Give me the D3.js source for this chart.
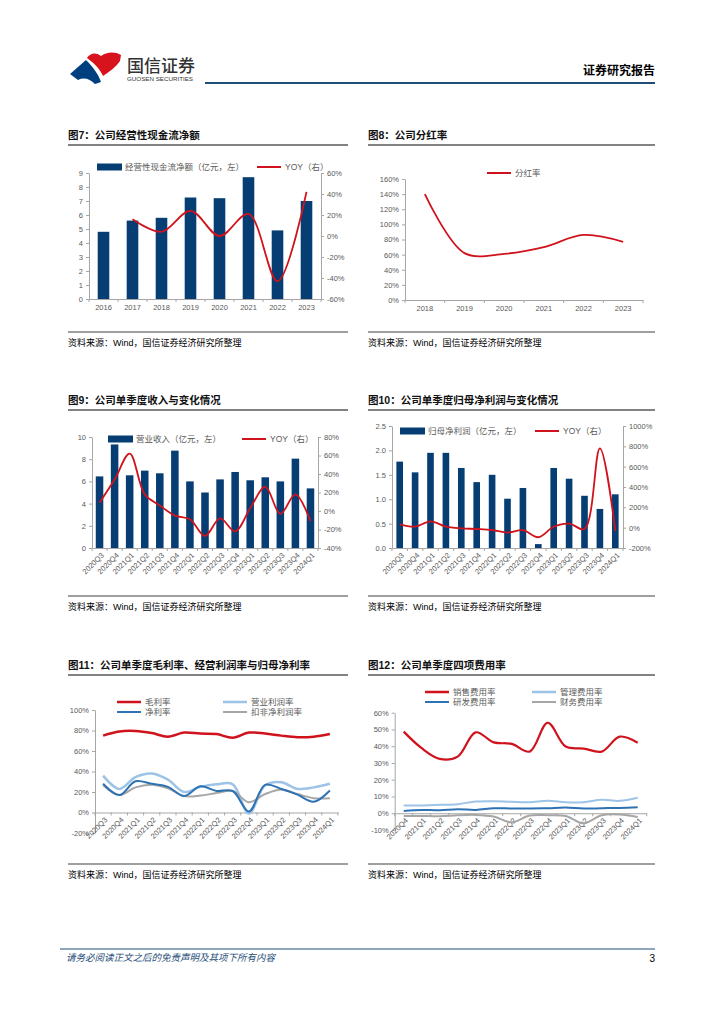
<!DOCTYPE html>
<html>
<head>
<meta charset="utf-8">
<script src="https://cdn.jsdelivr.net/npm/d3@7"></script>
<style>
  body { margin: 0; background: #fff; }
  svg { display: block; }
</style>
</head>
<body>
<svg id="page" width="724" height="1024"></svg>
<script>
const svg = d3.select('#page');

const FONT = "'Liberation Sans', 'Noto Sans CJK SC', sans-serif";
const NAVY = '#063d73';
const RED = '#d0121c';
const LIGHT = '#9dc3e6';
const BLUE = '#2e72b4';
const GRAY = '#a6a6a6';
const AXIS = '#a6a6a6';
const LABEL = '#595959';

// 图7 经营性现金流净额
const cfYears = ['2016', '2017', '2018', '2019', '2020', '2021', '2022', '2023'];
const cfValue = [4.8, 5.6, 5.8, 7.25, 7.2, 8.7, 4.9, 7.0];
const cfYoy = [null, 16, 4, 24, 0, 21, -43, 42];

// 图8 分红率
const divYears = ['2018', '2019', '2020', '2021', '2022', '2023'];
const divRate = [140, 62, 61, 70, 86, 77];

// 图9 / 图10 / 图11 quarters
const quarters = ['2020Q3', '2020Q4', '2021Q1', '2021Q2', '2021Q3', '2021Q4', '2022Q1', '2022Q2',
  '2022Q3', '2022Q4', '2023Q1', '2023Q2', '2023Q3', '2023Q4', '2024Q1'];
const revValue = [6.45, 9.33, 6.55, 6.97, 6.73, 8.77, 6.0, 5.0, 6.18, 6.85, 6.1, 6.37, 6.0, 8.05, 5.37];
const revYoy = [9, 34, 62, 18, 6, -5, -9, -27, -8, -22, 3, 26, -3, 18, -11];
const npValue = [1.77, 1.55, 1.95, 1.95, 1.64, 1.35, 1.50, 1.01, 1.23, 0.08, 1.64, 1.42, 1.07, 0.80, 1.10];
const npYoy = [33, 10, 62, 10, -7, -13, -23, -48, -25, -94, 9, 40, -13, 780, -33];

const grossMargin = [75, 79, 79.5, 77.5, 74, 78, 77, 76.5, 73, 78, 77, 75, 73.5, 74, 76.5];
const opMargin = [36, 23, 34.5, 38, 32, 20, 25, 27.5, 27.5, -1, 26.5, 29.5, 23, 24.5, 28];
const netMargin = [28, 17, 30.5, 28, 25, 16, 25.5, 21, 21, 1, 27, 23, 17.5, 10.5, 21.5];
const adjMargin = [26.5, 17, 24.5, 27, 23.5, 16, 16.5, 19, 21, 10, 18, 22.5, 18, 14, 14];

// 图12 四项费用率
const quartersB = ['2020Q4', '2021Q1', '2021Q2', '2021Q3', '2021Q4', '2022Q1', '2022Q2',
  '2022Q3', '2022Q4', '2023Q1', '2023Q2', '2023Q3', '2023Q4', '2024Q1'];
const salesRate = [48.7, 38.8, 32.4, 33.8, 48.3, 42.3, 41.4, 36.8, 54, 39.8, 38.6, 36.8, 45.7, 42.1];
const adminRate = [4.6, 4.6, 5.0, 5.4, 7.0, 7.2, 6.8, 6.6, 7.4, 6.6, 6.6, 8.0, 7.4, 9.3];
const rdRate = [1.4, 2.0, 1.8, 2.4, 2.0, 3.0, 2.8, 2.8, 3.0, 3.4, 2.8, 3.0, 3.2, 3.6];
const finRate = [-1.6, -1.6, -1.8, -1.2, -1.0, -2.0, -5.4, -1.4, -1.2, -1.6, -6.0, -1.2, -0.8, -2.2];

const pct = d => d + '%';
const smooth = d3.curveCatmullRom.alpha(0.5);

// ---------- page header / footer ----------
svg.append('path')
  .attr('d', 'M70,74 L86,60 C92,66 98,73 101,82 L95,84 C90,79 84,77 78,80 Z')
  .attr('fill', '#003f7f');
svg.append('path')
  .attr('d', 'M87,58 C90,53 96,52 101,56 C106,52 115,51 121,55 L120,61 C116,67 110,71 103,76 C100,69 94,63 87,58 Z')
  .attr('fill', '#d7131e');
svg.append('text')
  .attr('x', 127).attr('y', 72)
  .text('国信证券')
  .style('font-family', FONT).style('font-size', '17px').style('font-weight', 500)
  .attr('fill', '#333');
svg.append('text')
  .attr('x', 127).attr('y', 81)
  .attr('textLength', 66).attr('lengthAdjust', 'spacingAndGlyphs')
  .text('GUOSEN SECURITIES')
  .style('font-family', FONT).style('font-size', '6px')
  .attr('fill', '#333');
svg.append('text')
  .attr('x', 655).attr('y', 75).attr('text-anchor', 'end')
  .text('证券研究报告')
  .style('font-family', FONT).style('font-size', '12px').style('font-weight', 'bold')
  .attr('fill', '#000');
svg.append('line')
  .attr('x1', 205).attr('x2', 655).attr('y1', 83).attr('y2', 83)
  .attr('stroke', '#1f4e79').attr('stroke-width', 2);

svg.append('line')
  .attr('x1', 60).attr('x2', 655).attr('y1', 949).attr('y2', 949)
  .attr('stroke', '#1f4e79').attr('stroke-width', 1);
svg.append('text')
  .attr('x', 66).attr('y', 961)
  .text('请务必阅读正文之后的免责声明及其项下所有内容')
  .style('font-family', FONT).style('font-size', '9.5px').style('font-style', 'italic')
  .attr('fill', '#1f4e79');
svg.append('text')
  .attr('x', 655).attr('y', 962).attr('text-anchor', 'end')
  .text('3')
  .style('font-family', FONT).style('font-size', '10px')
  .attr('fill', '#000');

// ---------- helpers ----------
function frame(x0, x1, base, srcY, title) {
  svg.append('text')
    .attr('x', x0).attr('y', base)
    .text(title)
    .style('font-family', FONT).style('font-size', '10.5px').style('font-weight', 'bold')
    .attr('fill', '#111');
  svg.append('line')
    .attr('x1', x0).attr('x2', x1).attr('y1', base + 6).attr('y2', base + 6)
    .attr('stroke', '#595959').attr('stroke-width', 1.5);
  svg.append('line')
    .attr('x1', x0).attr('x2', x1).attr('y1', srcY).attr('y2', srcY)
    .attr('stroke', '#7f7f7f').attr('stroke-width', 1.5);
  svg.append('text')
    .attr('x', x0).attr('y', srcY + 13.5)
    .text('资料来源：Wind，国信证券经济研究所整理')
    .style('font-family', FONT).style('font-size', '9px')
    .attr('fill', '#000');
}

function legendItem(x, y, type, color, label, sw) {
  if (type === 'bar') {
    svg.append('rect')
      .attr('x', x).attr('y', y - 3.5).attr('width', 25).attr('height', 7)
      .attr('fill', color);
  } else {
    svg.append('line')
      .attr('x1', x).attr('x2', x + 24).attr('y1', y).attr('y2', y)
      .attr('stroke', color).attr('stroke-width', sw || 2);
  }
  svg.append('text')
    .attr('x', x + 28).attr('y', y).attr('dy', '0.35em')
    .text(label)
    .style('font-family', FONT).style('font-size', '8.5px')
    .attr('fill', LABEL);
}

function styleAxis(g) {
  g.select('.domain').attr('stroke', AXIS);
  g.selectAll('.tick line').attr('stroke', AXIS);
  g.selectAll('.tick text')
    .attr('fill', LABEL)
    .style('font-family', FONT).style('font-size', '7.5px');
}

function xAxis(x, y, x0, rotate) {
  const g = svg.append('g')
    .attr('transform', `translate(0,${y})`)
    .call(d3.axisBottom(x).tickSize(0).tickSizeOuter(0).tickPadding(6));
  styleAxis(g);
  if (rotate) {
    g.selectAll('.tick text')
      .attr('text-anchor', 'end')
      .attr('x', 0).attr('y', 0).attr('dy', '0.35em')
      .attr('transform', 'translate(3,6) rotate(-45)');
  }
  // tick marks between categories
  g.selectAll('line.bound')
    .data(d3.range(x.domain().length + 1))
    .join('line')
    .attr('class', 'bound')
    .attr('x1', i => x0 + i * x.step()).attr('x2', i => x0 + i * x.step())
    .attr('y1', 0).attr('y2', 3)
    .attr('stroke', AXIS);
}

function barLine(o) {
  const x = d3.scaleBand().domain(o.cats).range([o.x0, o.x1])
    .paddingInner(o.pad).paddingOuter(o.pad / 2);
  const yL = d3.scaleLinear().domain(o.left).range([o.yBot, o.yTop]);
  const yR = d3.scaleLinear().domain(o.right).range([o.yBot, o.yTop]);
  const cx = d => x(d) + x.bandwidth() / 2;

  svg.append('g').selectAll('rect')
    .data(o.cats)
    .join('rect')
    .attr('x', d => x(d))
    .attr('width', x.bandwidth())
    .attr('y', (d, i) => yL(o.bars[i]))
    .attr('height', (d, i) => yL(0) - yL(o.bars[i]))
    .attr('fill', NAVY);

  styleAxis(svg.append('g')
    .attr('transform', `translate(${o.x0},0)`)
    .call(d3.axisLeft(yL).tickValues(o.leftTicks).tickFormat(o.leftFmt)
      .tickSize(3).tickSizeOuter(0).tickPadding(3)));
  styleAxis(svg.append('g')
    .attr('transform', `translate(${o.x1},0)`)
    .call(d3.axisRight(yR).tickValues(o.rightTicks).tickFormat(pct)
      .tickSize(3).tickSizeOuter(0).tickPadding(3)));
  xAxis(x, o.yBot, o.x0, o.rotate);

  const line = d3.line()
    .defined(d => d[1] != null)
    .x(d => cx(d[0]))
    .y(d => yR(d[1]))
    .curve(smooth);
  svg.append('path')
    .datum(o.cats.map((c, i) => [c, o.line[i]]))
    .attr('d', line)
    .attr('fill', 'none')
    .attr('stroke', RED)
    .attr('stroke-width', 1.8);
}

function lines(o) {
  const x = d3.scaleBand().domain(o.cats).range([o.x0, o.x1]);
  const y = d3.scaleLinear().domain(o.domain).range([o.yBot, o.yTop]);
  const cx = d => x(d) + x.bandwidth() / 2;

  styleAxis(svg.append('g')
    .attr('transform', `translate(${o.x0},0)`)
    .call(d3.axisLeft(y).tickValues(o.ticks).tickFormat(pct)
      .tickSize(3).tickSizeOuter(0).tickPadding(3)));
  xAxis(x, y(0), o.x0, o.rotate);

  const line = d3.line()
    .x(d => cx(d[0]))
    .y(d => y(d[1]))
    .curve(smooth);
  o.series.forEach((s) => {
    svg.append('path')
      .datum(o.cats.map((c, i) => [c, s.values[i]]))
      .attr('d', line)
      .attr('fill', 'none')
      .attr('stroke', s.color)
      .attr('stroke-width', s.width);
  });
}

// ---------- 图7 ----------
frame(68, 348, 139, 332, '图7：公司经营性现金流净额');
barLine({
  cats: cfYears, bars: cfValue, line: cfYoy,
  x0: 89, x1: 321, yTop: 173, yBot: 299, pad: 0.6,
  left: [0, 9], leftTicks: d3.range(0, 10), leftFmt: d => d,
  right: [-60, 60], rightTicks: d3.range(-60, 61, 20),
  rotate: false,
});
legendItem(97, 167, 'bar', NAVY, '经营性现金流净额（亿元，左）');
legendItem(257, 167, 'line', RED, 'YOY（右）');

// ---------- 图8 ----------
frame(368, 655, 139, 332, '图8：公司分红率');
lines({
  cats: divYears, x0: 405, x1: 643, yTop: 179, yBot: 300,
  domain: [0, 160], ticks: d3.range(0, 161, 20), rotate: false,
  series: [{ values: divRate, color: RED, width: 1.8 }],
});
legendItem(487, 173, 'line', RED, '分红率');

// ---------- 图9 ----------
frame(68, 348, 404, 596, '图9：公司单季度收入与变化情况');
barLine({
  cats: quarters, bars: revValue, line: revYoy,
  x0: 92, x1: 318, yTop: 437, yBot: 548, pad: 0.5,
  left: [0, 10], leftTicks: d3.range(0, 11, 2), leftFmt: d => d,
  right: [-40, 80], rightTicks: d3.range(-40, 81, 20),
  rotate: true,
});
legendItem(108, 439, 'bar', NAVY, '营业收入（亿元，左）');
legendItem(242, 439, 'line', RED, 'YOY（右）');

// ---------- 图10 ----------
frame(368, 655, 404, 596, '图10：公司单季度归母净利润与变化情况');
barLine({
  cats: quarters, bars: npValue, line: npYoy,
  x0: 392, x1: 623, yTop: 426, yBot: 548, pad: 0.57,
  left: [0, 2.5], leftTicks: d3.range(0, 2.51, 0.5), leftFmt: d3.format('.1f'),
  right: [-200, 1000], rightTicks: d3.range(-200, 1001, 200),
  rotate: true,
});
legendItem(400, 431, 'bar', NAVY, '归母净利润（亿元，左）');
legendItem(535, 431, 'line', RED, 'YOY（右）');

// ---------- 图11 ----------
frame(68, 348, 669, 864, '图11：公司单季度毛利率、经营利润率与归母净利率');
lines({
  cats: quarters, x0: 95, x1: 338, yTop: 710, yBot: 833,
  domain: [-20, 100], ticks: d3.range(-20, 101, 20), rotate: true,
  series: [
    { values: grossMargin, color: RED, width: 2.5 },
    { values: opMargin, color: LIGHT, width: 2.5 },
    { values: adjMargin, color: GRAY, width: 2 },
    { values: netMargin, color: BLUE, width: 2 },
  ],
});
legendItem(117, 702, 'line', RED, '毛利率', 2.5);
legendItem(223, 702, 'line', LIGHT, '营业利润率', 2.5);
legendItem(117, 712, 'line', BLUE, '净利率', 2);
legendItem(223, 712, 'line', GRAY, '扣非净利润率', 2);

// ---------- 图12 ----------
frame(368, 655, 669, 864, '图12：公司单季度四项费用率');
lines({
  cats: quartersB, x0: 394.7, x1: 646.7, yTop: 712.7, yBot: 830,
  domain: [-10, 60], ticks: d3.range(-10, 61, 10), rotate: true,
  series: [
    { values: salesRate, color: RED, width: 2.2 },
    { values: adminRate, color: LIGHT, width: 2 },
    { values: finRate, color: GRAY, width: 2 },
    { values: rdRate, color: BLUE, width: 2 },
  ],
});
legendItem(425, 692, 'line', RED, '销售费用率', 2.5);
legendItem(532, 692, 'line', LIGHT, '管理费用率', 2.5);
legendItem(425, 702, 'line', BLUE, '研发费用率', 2);
legendItem(532, 702, 'line', GRAY, '财务费用率', 2);
</script>
</body>
</html>
